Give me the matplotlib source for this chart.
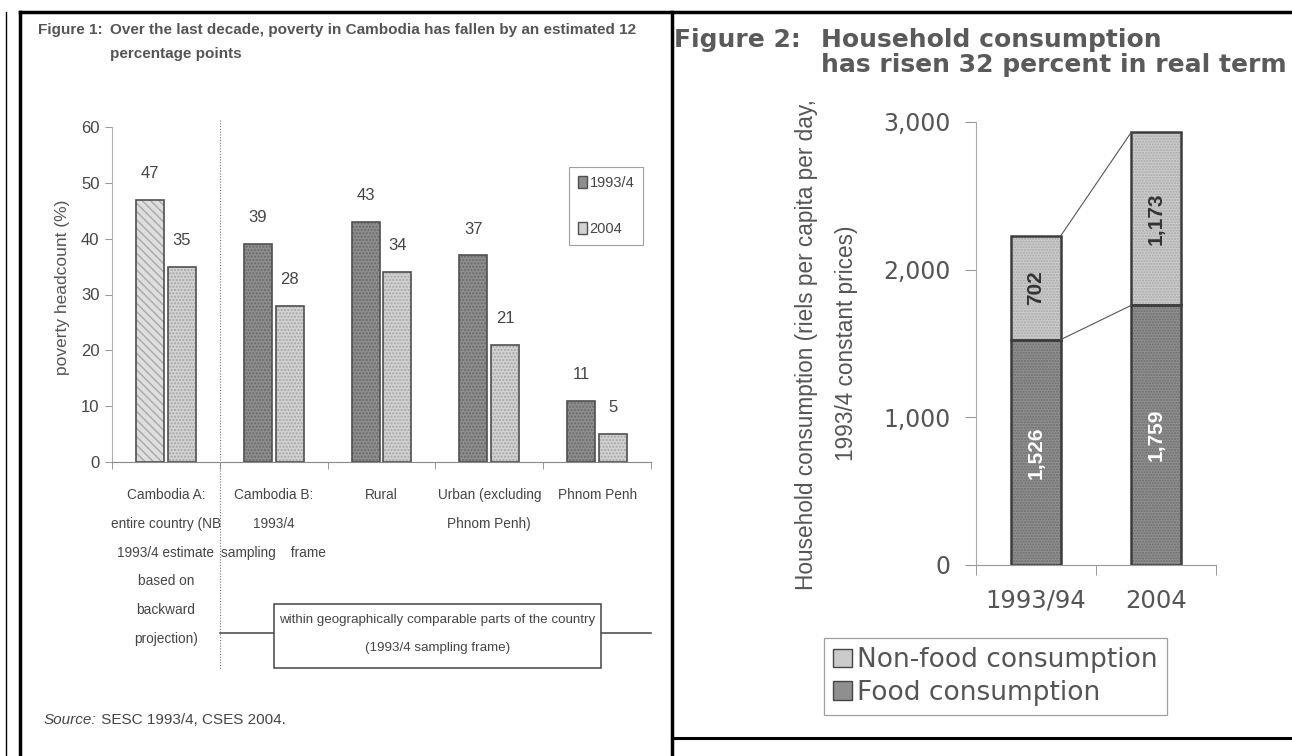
import numpy as np
import matplotlib
matplotlib.use('Agg')
import matplotlib.pyplot as plt
import matplotlib.transforms as mtransforms
from matplotlib.patches import Patch, Rectangle
from matplotlib.lines import Line2D
from matplotlib.text import Annotation

# --- Figure 1 data: poverty headcount (%)
regions = ['Cambodia A:\nentire country (NB\n1993/4 estimate\nbased on\nbackward\nprojection)',
           'Cambodia B:\n1993/4\nsampling    frame',
           'Rural',
           'Urban (excluding\nPhnom Penh)',
           'Phnom Penh']
poverty_1993 = [47, 39, 43, 37, 11]
poverty_2004 = [35, 28, 34, 21, 5]
poverty_ticks = [0, 10, 20, 30, 40, 50, 60]
series_names = ['1993/4', '2004']

# --- Figure 2 data: household consumption (riels per capita per day)
years = ['1993/94', '2004']
food = [1526, 1759]
nonfood = [702, 1173]
cons_ticks = [0, 1000, 2000, 3000]

ARIAL = 'Liberation Sans'
WIDE = 'DejaVu Sans'

W, H = 1292, 756
fig = plt.figure(figsize=(W / 100, H / 100), dpi=100)
fig.patch.set_facecolor('white')


def rect(x0, y0, x1, y1):
    # pixel box (top-left origin) -> figure fraction
    return [x0 / W, 1 - y1 / H, (x1 - x0) / W, (y1 - y0) / H]


def fy(y):
    return 1 - y / H


def fx(x):
    return x / W


TXT = '#454545'
EDGE = '#505050'

# ================= Figure 1 =================
ax1 = fig.add_axes(rect(112, 127, 651, 462))
x = np.arange(len(regions))
w, off = 0.26, 0.148
fill93 = ['#dedede'] + ['#8e8e8e'] * 4
hatch93 = ['\\\\\\\\'] + ['.....'] * 4
hatchcol93 = ['#a8a8a8'] + ['#6a6a6a'] * 4
for i in range(len(regions)):
    ax1.bar(x[i] - off, poverty_1993[i], w, color=fill93[i], edgecolor=hatchcol93[i],
            linewidth=0, hatch=hatch93[i])
ax1.bar(x + off, poverty_2004, w, color='#d2d2d2', edgecolor='#a5a5a5', linewidth=0, hatch='.....')
ax1.bar(x - off, poverty_1993, w, fill=False, edgecolor=EDGE, linewidth=1.2)
ax1.bar(x + off, poverty_2004, w, fill=False, edgecolor=EDGE, linewidth=1.2)

for xs, vals in ((x - off, poverty_1993), (x + off, poverty_2004)):
    for xi, v in zip(xs, vals):
        ax1.annotate(str(v), (xi, v), xytext=(0, 19), textcoords='offset points',
                     ha='center', va='center', fontsize=12, family=ARIAL, color=TXT)

ax1.set_xlim(-0.5, len(regions) - 0.5)
ax1.set_ylim(0, 60)
ax1.set_yticks(poverty_ticks)
ax1.set_xticks(x)
ax1.set_xticklabels(regions, family=ARIAL, fontsize=9.8, color=TXT)
for lbl in ax1.get_xticklabels():
    lbl.set_linespacing(2.33)
ax1.set_xticks(np.arange(-0.5, len(regions), 1), minor=True)
ax1.tick_params(axis='x', which='major', length=0, pad=19)
ax1.tick_params(axis='x', which='minor', length=5, color='#888', direction='out')
ax1.tick_params(axis='y', length=5, color='#999', labelsize=12, labelcolor=TXT, pad=4)
for lbl in ax1.get_yticklabels():
    lbl.set_family(ARIAL)
for s in ('top', 'right'):
    ax1.spines[s].set_visible(False)
ax1.spines['left'].set_color('#b0b0b0')
ax1.spines['bottom'].set_color('#888')

leg1 = ax1.legend([Patch(facecolor='#8e8e8e', edgecolor=EDGE),
                   Patch(facecolor='#d2d2d2', edgecolor=EDGE)], series_names,
                  loc='upper left', bbox_to_anchor=(fx(569), fy(167)),
                  bbox_transform=fig.transFigure, borderaxespad=0,
                  prop={'family': ARIAL, 'size': 10.5}, labelcolor=TXT,
                  handlelength=0.65, handleheight=0.9, handletextpad=0.15,
                  labelspacing=2.2, borderpad=0.6, fancybox=False)
leg1.get_frame().set_edgecolor('#888')
leg1.get_frame().set_linewidth(0.8)

# dotted separator and the "comparable parts" bracket
blend1 = mtransforms.blended_transform_factory(ax1.transData, fig.transFigure)
ax1.plot([0.5, 0.5], [fy(120), fy(670)], transform=blend1, color='#777',
         linestyle=(0, (1, 1.5)), linewidth=0.8, clip_on=False)
ax1.plot([0.5, 4.5], [fy(633), fy(633)], transform=blend1, color='#444',
         linewidth=1.1, clip_on=False)
ax1.add_patch(Rectangle((1.0, fy(668)), 3.04, fy(604) - fy(668), transform=blend1,
                        facecolor='white', edgecolor='#444', linewidth=1.1, clip_on=False,
                        zorder=3))
ax1.text(2.52, fy(634), 'within geographically comparable parts of the country\n(1993/4 sampling frame)',
         transform=blend1, ha='center', va='center', family=ARIAL, fontsize=9.6,
         color=TXT, linespacing=2.8, zorder=4)

fig.text(fx(62), fy(287), 'poverty headcount (%)', rotation=90, ha='center', va='center',
         family=ARIAL, fontsize=12.5, color='#555')

TITLE1 = dict(family=ARIAL, weight='bold', fontsize=11, color='#555', va='center')
fig.text(fx(38), fy(30), 'Figure 1:', **TITLE1)
fig.text(fx(110), fy(30), 'Over the last decade, poverty in Cambodia has fallen by an estimated 12',
         **TITLE1)
fig.text(fx(110), fy(54), 'percentage points', **TITLE1)

src = fig.text(fx(44), fy(720), 'Source:', family=ARIAL, style='italic', fontsize=11,
               color=TXT, va='center')
fig.add_artist(Annotation(' SESC 1993/4, CSES 2004.', xy=(1, 0.5), xycoords=src,
                          va='center', ha='left', family=ARIAL, fontsize=11, color=TXT))

# ================= Figure 2 =================
ax2 = fig.add_axes(rect(976, 122, 1216, 565))
xc = np.arange(len(years))
bw = 0.41
totals = [f + n for f, n in zip(food, nonfood)]
ax2.bar(xc, food, bw, color='#8f8f8f', edgecolor='#6e6e6e', linewidth=0, hatch='......')
ax2.bar(xc, nonfood, bw, bottom=food, color='#cbcbcb', edgecolor='#a9a9a9', linewidth=0, hatch='......')
ax2.bar(xc, food, bw, fill=False, edgecolor='#3c3c3c', linewidth=1.8)
ax2.bar(xc, nonfood, bw, bottom=food, fill=False, edgecolor='#3c3c3c', linewidth=1.8)
ax2.plot([xc[0] + bw / 2, xc[1] - bw / 2], [totals[0], totals[1]], color='#555', linewidth=0.8)
ax2.plot([xc[0] + bw / 2, xc[1] - bw / 2], [food[0], food[1]], color='#555', linewidth=0.8)

for xi, f, n in zip(xc, food, nonfood):
    ax2.text(xi, f / 2, f'{f:,}', rotation=90, ha='center', va='center', family=ARIAL,
             weight='bold', fontsize=15, color='white')
    ax2.text(xi, f + n / 2, f'{n:,}', rotation=90, ha='center', va='center', family=ARIAL,
             weight='bold', fontsize=15, color='#333')

ax2.set_xlim(-0.5, len(years) - 0.5)
ax2.set_ylim(0, 3000)
ax2.set_yticks(cons_ticks)
ax2.set_yticklabels([f'{t:,}' for t in cons_ticks], family=WIDE, fontsize=17, color='#555')
ax2.set_xticks(xc)
ax2.set_xticklabels(years, family=WIDE, fontsize=17.5, color='#555')
ax2.set_xticks(np.arange(-0.5, len(years), 1), minor=True)
ax2.tick_params(axis='x', which='major', length=0, pad=17)
ax2.tick_params(axis='x', which='minor', length=7, color='#888', direction='out')
ax2.tick_params(axis='y', length=8, color='#999', pad=10)
for s in ('top', 'right'):
    ax2.spines[s].set_visible(False)
ax2.spines['left'].set_color('#aaa')
ax2.spines['bottom'].set_color('#999')

leg2 = ax2.legend([Patch(facecolor='#cbcbcb', edgecolor='#444'),
                   Patch(facecolor='#8f8f8f', edgecolor='#444')],
                  ['Non-food consumption', 'Food consumption'],
                  loc='upper left', bbox_to_anchor=(fx(824), fy(638)),
                  bbox_transform=fig.transFigure, borderaxespad=0,
                  prop={'family': WIDE, 'size': 19}, labelcolor='#555',
                  handlelength=0.7, handleheight=0.7, handletextpad=0.2,
                  labelspacing=0.25, borderpad=0.35, fancybox=False)
leg2.get_frame().set_edgecolor('#888')
leg2.get_frame().set_linewidth(0.9)

fig.text(fx(807), fy(345), 'Household consumption (riels per capita per day,', rotation=90,
         ha='center', va='center', family=ARIAL, fontsize=16.3, color='#555')
fig.text(fx(847), fy(343), '1993/4 constant prices)', rotation=90,
         ha='center', va='center', family=ARIAL, fontsize=16.3, color='#555')

TITLE2 = dict(family=WIDE, weight='bold', fontsize=18, color='#5a5a5a', va='center')
fig.text(fx(674), fy(40), 'Figure 2:', **TITLE2)
fig.text(fx(821), fy(40), 'Household consumption', **TITLE2)
fig.text(fx(821), fy(65), 'has risen 32 percent in real term', **TITLE2)

# ================= table borders =================
for (x0, y0, x1, y1, lw) in [(6, 12, 6, 756, 1.0), (20, 12, 20, 756, 2.5), (20, 12, 1292, 12, 2.5),
                             (672, 12, 672, 756, 2.5), (672, 738, 1292, 738, 2.2)]:
    fig.add_artist(Line2D([fx(x0), fx(x1)], [fy(y0), fy(y1)], transform=fig.transFigure,
                          color='black', linewidth=lw))

fig.savefig('out.png', dpi=100, facecolor='white')
